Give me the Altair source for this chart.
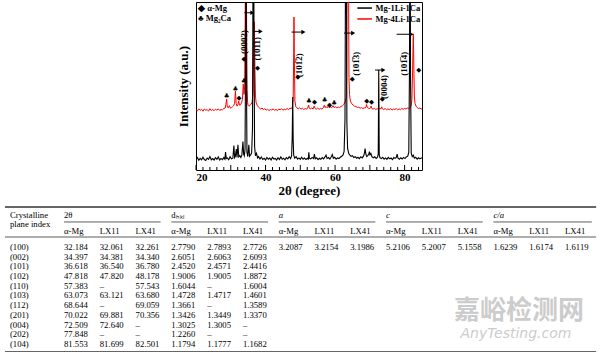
import altair as alt
import pandas as pd

# ---------------- XRD patterns (2θ in degree, intensity in a.u.; 0-100 = plot height) ----------------
BLACK_PTS = [
    (20.0, 6.5), (20.4, 7.4), (20.8, 5.8), (21.2, 6.9), (21.6, 6.0), (22.0, 7.6), (22.4, 6.2), (22.8, 5.7),
    (23.2, 7.1), (23.6, 6.3), (24.0, 8.0), (24.4, 6.1), (24.8, 6.8), (25.2, 5.9), (25.6, 7.3), (26.0, 6.4),
    (26.4, 7.8), (26.8, 6.0), (27.2, 6.9), (27.6, 6.2), (28.0, 7.4), (28.3, 6.5), (28.5, 10.7), (28.7, 6.8),
    (29.0, 7.2), (29.4, 6.1), (29.8, 7.9), (30.2, 6.6), (30.6, 7.0), (30.9, 14.5), (31.1, 7.3), (31.3, 8.0),
    (31.6, 12.5), (31.8, 7.5), (32.06, 15.0), (32.3, 7.8), (32.6, 8.5), (32.9, 7.4), (33.2, 9.0), (33.5, 17.0),
    (33.7, 9.5), (33.9, 8.5), (34.1, 12.0), (34.25, 60.0), (34.38, 160.0), (34.5, 60.0), (34.65, 10.5),
    (34.9, 8.0), (35.2, 15.0), (35.4, 8.2), (35.7, 9.0), (36.0, 10.0), (36.25, 25.0), (36.4, 120.0),
    (36.54, 170.0), (36.7, 70.0), (36.85, 14.0), (37.1, 8.5), (37.4, 10.0), (37.7, 7.2), (38.0, 8.0),
    (38.4, 6.6), (38.8, 7.7), (39.2, 6.3), (39.6, 7.0), (40.0, 6.0), (40.4, 7.5), (40.8, 6.4), (41.2, 7.1),
    (41.6, 6.0), (42.0, 7.6), (42.4, 6.5), (42.8, 6.9), (43.2, 5.9), (43.6, 7.3), (44.0, 6.2), (44.4, 7.8),
    (44.8, 6.4), (45.2, 7.0), (45.6, 6.1), (46.0, 7.4), (46.4, 6.6), (46.8, 7.9), (47.2, 6.8), (47.5, 8.5),
    (47.68, 20.0), (47.82, 43.5), (47.95, 18.0), (48.1, 8.8), (48.4, 7.0), (48.8, 7.9), (49.2, 6.5),
    (49.6, 7.2), (50.0, 6.3), (50.4, 7.6), (50.8, 6.4), (51.2, 7.1), (51.6, 6.2), (52.0, 7.0), (52.3, 6.5),
    (52.45, 10.5), (52.6, 7.0), (53.0, 6.6), (53.4, 7.5), (53.8, 6.8), (54.05, 9.5), (54.3, 6.7), (54.7, 7.3),
    (55.1, 6.2), (55.5, 7.0), (55.9, 6.4), (56.3, 7.4), (56.7, 6.6), (57.1, 7.8), (57.4, 8.9), (57.7, 6.9),
    (58.1, 7.4), (58.5, 6.5), (58.9, 7.9), (59.2, 9.2), (59.5, 7.0), (59.9, 7.6), (60.3, 6.5), (60.7, 7.2),
    (61.1, 6.8), (61.5, 7.6), (61.9, 8.2), (62.3, 9.0), (62.6, 11.0), (62.85, 30.0), (63.0, 120.0),
    (63.1, 170.0), (63.25, 110.0), (63.4, 28.0), (63.6, 13.0), (63.9, 10.0), (64.2, 9.0), (64.6, 8.1),
    (65.0, 8.5), (65.4, 7.4), (65.8, 7.9), (66.2, 7.0), (66.6, 7.6), (67.0, 6.8), (67.4, 7.9), (67.8, 7.2),
    (68.2, 8.4), (68.45, 10.0), (68.64, 12.8), (68.85, 9.5), (69.1, 8.0), (69.4, 8.6), (69.7, 9.5),
    (69.88, 11.0), (70.05, 9.0), (70.3, 9.8), (70.6, 8.0), (71.0, 7.3), (71.4, 7.9), (71.8, 6.9), (72.2, 7.6),
    (72.42, 9.5), (72.56, 59.5), (72.7, 9.0), (72.9, 7.4), (73.3, 6.8), (73.7, 7.6), (74.1, 6.5), (74.5, 7.2),
    (74.9, 6.3), (75.3, 7.5), (75.7, 6.6), (76.1, 7.1), (76.5, 6.2), (76.9, 7.4), (77.3, 6.9), (77.6, 7.5),
    (77.85, 9.5), (78.1, 7.0), (78.5, 6.4), (78.9, 7.3), (79.3, 6.6), (79.7, 7.5), (80.1, 6.8), (80.5, 7.8),
    (80.9, 8.2), (81.2, 10.5), (81.4, 60.0), (81.55, 170.0), (81.7, 55.0), (81.9, 10.0), (82.2, 8.0),
    (82.5, 8.8), (82.8, 7.0), (83.2, 7.6), (83.6, 6.5), (84.0, 7.3), (84.4, 6.6), (84.8, 7.2), (85.0, 6.9),
]

RED_PTS = [
    (20.0, 36.0), (20.4, 35.2), (20.8, 36.4), (21.2, 35.5), (21.6, 36.1), (22.0, 35.0), (22.4, 36.3),
    (22.8, 35.6), (23.2, 35.9), (23.6, 35.1), (24.0, 36.5), (24.4, 35.4), (24.8, 36.0), (25.2, 35.3),
    (25.6, 36.2), (26.0, 35.6), (26.4, 36.4), (26.8, 35.5), (27.2, 36.0), (27.6, 35.8), (28.0, 36.6),
    (28.4, 36.9), (28.6, 39.0), (28.8, 42.3), (29.0, 37.5), (29.3, 37.0), (29.6, 38.3), (29.9, 36.8),
    (30.2, 37.2), (30.5, 37.6), (30.8, 38.2), (31.1, 39.5), (31.35, 47.0), (31.55, 39.5), (31.8, 38.0),
    (32.05, 38.8), (32.28, 41.0), (32.5, 38.6), (32.8, 38.8), (33.1, 40.0), (33.35, 42.0), (33.6, 51.2),
    (33.8, 45.0), (34.0, 50.0), (34.15, 90.0), (34.34, 180.0), (34.55, 90.0), (34.7, 48.0), (34.85, 40.0),
    (35.0, 38.5), (35.2, 38.0), (35.5, 38.5), (35.8, 39.0), (36.1, 40.0), (36.4, 45.0), (36.6, 70.0),
    (36.78, 88.0), (36.95, 60.0), (37.1, 44.0), (37.3, 40.0), (37.6, 38.5), (37.9, 37.6), (38.2, 37.0),
    (38.6, 36.3), (39.0, 36.9), (39.4, 35.9), (39.8, 36.5), (40.2, 35.6), (40.6, 36.2), (41.0, 35.4),
    (41.4, 36.0), (41.8, 35.7), (42.2, 36.4), (42.6, 35.5), (43.0, 36.1), (43.4, 35.3), (43.8, 36.3),
    (44.2, 35.8), (44.6, 36.5), (45.0, 35.6), (45.4, 36.2), (45.8, 35.9), (46.2, 36.6), (46.6, 36.0),
    (47.0, 36.8), (47.4, 36.5), (47.7, 37.5), (47.95, 42.0), (48.1, 70.0), (48.18, 91.0), (48.3, 65.0),
    (48.45, 41.0), (48.7, 37.8), (49.0, 37.0), (49.4, 36.4), (49.8, 37.0), (50.2, 36.2), (50.6, 36.8),
    (51.0, 36.0), (51.4, 36.6), (51.8, 36.2), (52.1, 36.9), (52.4, 38.6), (52.6, 36.8), (52.9, 36.4),
    (53.3, 36.9), (53.7, 36.4), (54.0, 38.0), (54.2, 36.7), (54.6, 36.2), (55.0, 36.9), (55.4, 36.1),
    (55.8, 36.7), (56.2, 36.3), (56.6, 37.0), (56.9, 38.5), (57.1, 37.2), (57.4, 37.8), (57.7, 37.0),
    (58.0, 38.0), (58.3, 37.1), (58.7, 37.6), (59.0, 37.0), (59.4, 38.3), (59.7, 37.2), (60.1, 37.6),
    (60.5, 37.0), (60.9, 37.5), (61.3, 37.2), (61.7, 37.8), (62.1, 38.2), (62.5, 39.0), (62.9, 40.5),
    (63.2, 43.0), (63.35, 55.0), (63.5, 120.0), (63.68, 200.0), (63.85, 120.0), (64.0, 55.0), (64.15, 45.0),
    (64.4, 41.0), (64.8, 39.5), (65.2, 38.6), (65.6, 38.0), (66.0, 37.8), (66.4, 37.2), (66.8, 37.4),
    (67.2, 36.8), (67.6, 37.1), (68.0, 36.6), (68.4, 37.0), (68.7, 36.9), (68.9, 37.6), (69.06, 39.0),
    (69.25, 37.2), (69.6, 36.8), (70.0, 36.5), (70.2, 37.0), (70.36, 38.0), (70.55, 36.7), (70.9, 36.2),
    (71.3, 36.7), (71.7, 36.0), (72.1, 36.5), (72.5, 36.2), (72.9, 36.6), (73.2, 36.4), (73.4, 37.6),
    (73.6, 36.5), (74.0, 36.0), (74.4, 36.6), (74.8, 35.8), (75.2, 36.4), (75.6, 35.9), (76.0, 36.5),
    (76.4, 35.7), (76.8, 36.3), (77.2, 36.0), (77.6, 36.6), (78.0, 35.8), (78.4, 36.4), (78.8, 35.9),
    (79.2, 36.6), (79.6, 36.1), (80.0, 36.7), (80.4, 36.3), (80.8, 36.9), (81.2, 36.6), (81.6, 37.4),
    (81.9, 38.3), (82.1, 42.0), (82.3, 60.0), (82.5, 81.0), (82.65, 62.0), (82.8, 44.0), (83.0, 39.5),
    (83.3, 38.0), (83.6, 37.2), (84.0, 36.6), (84.4, 36.9), (84.8, 36.3), (85.0, 36.7),
]

SERIES_NAMES = ["Mg-1Li-1Ca", "Mg-4Li-1Ca"]
PHASE_NAMES = ["\u25C6 \u03B1-Mg", "\u2663 Mg\u2082Ca"]

DIAMOND_2T = [33.8, 37.7, 32.4, 49.25, 54.1, 58.4, 64.96, 69.1, 70.5, 73.6, 84.1]
DIAMOND_I = [66.0, 61.0, 43.0, 55.5, 40.5, 38.8, 54.0, 41.0, 40.5, 42.0, 59.7]
CLUB_2T = [33.8, 28.8, 31.3, 52.5, 57.0, 59.7]
CLUB_I = [53.0, 44.0, 48.0, 41.0, 41.5, 39.8]

PEAK_NAMES = ["(0002)", "(101\u03051)", "(101\u03052)", "(101\u03053)", "(0004)", "(101\u03054)"]
PEAK_LABEL_2T = [33.8, 37.6, 49.6, 66.0, 74.2, 79.9]
PEAK_LABEL_I = [76.2, 72.2, 62.3, 63.3, 49.4, 63.3]

ARROW_FROM = [33.9, 36.5, 47.5, 62.6, 71.5, 77.7]
ARROW_TO = [36.2, 38.6, 50.9, 65.2, 73.9, 82.0]
ARROW_I = [93.6, 82.5, 82.1, 81.5, 59.5, 80.8]

MAJOR_TICKS = [20, 30, 40, 50, 60, 70, 80]
MINOR_TICKS = [22, 24, 26, 28, 32, 34, 36, 38, 42, 44, 46, 48, 52, 54, 56, 58,
               62, 64, 66, 68, 72, 74, 76, 78, 82, 84]

# ---------------- Table ----------------
PLANES = ["(100)", "(002)", "(101)", "(102)", "(110)", "(103)", "(112)", "(201)", "(004)", "(202)", "(104)"]
GROUPS = ["2\u03B8", "d\u2095\u2096\u2097", "a", "c", "c/a"]
SUBHEADS = ["\u03B1-Mg", "LX11", "LX41"]
TT_AMG = ["32.184", "34.397", "36.618", "47.818", "57.383", "63.073", "68.644", "70.022", "72.509", "77.848", "81.553"]
TT_LX11 = ["32.061", "34.381", "36.540", "47.820", "\u2013", "63.121", "\u2013", "69.881", "72.640", "\u2013", "81.699"]
TT_LX41 = ["32.261", "34.340", "36.780", "48.178", "57.543", "63.680", "69.059", "70.356", "\u2013", "\u2013", "82.501"]
D_AMG = ["2.7790", "2.6051", "2.4520", "1.9006", "1.6044", "1.4728", "1.3661", "1.3426", "1.3025", "1.2260", "1.1794"]
D_LX11 = ["2.7893", "2.6063", "2.4571", "1.9005", "\u2013", "1.4717", "\u2013", "1.3449", "1.3005", "\u2013", "1.1777"]
D_LX41 = ["2.7726", "2.6093", "2.4416", "1.8872", "1.6004", "1.4601", "1.3589", "1.3370", "\u2013", "\u2013", "1.1682"]
A_ROW = ["3.2087", "3.2154", "3.1986"]
C_ROW = ["5.2106", "5.2007", "5.1558"]
CA_ROW = ["1.6239", "1.6174", "1.6119"]
WATERMARK = ["\u5609\u5cea\u68c0\u6d4b\u7f51", "AnyTesting.com"]

# ---------------- styles / layout ----------------
SERIF = "Liberation Serif"
BLACK = "#000000"
RED = "#ff0000"
SPACER_W = 176
PLOT_W, PLOT_H = 226, 168

xs = alt.Scale(domain=[20, 85], nice=False, zero=False)
ys = alt.Scale(domain=[0, 100], nice=False, zero=False)

black_df = pd.DataFrame(BLACK_PTS, columns=["tt", "inten"])
red_df = pd.DataFrame(RED_PTS, columns=["tt", "inten"])

x_axis = alt.Axis(title="2\u03B8 (degree)", values=MAJOR_TICKS, ticks=False, domain=False, grid=False,
                  labelFont=SERIF, labelFontWeight="bold", labelFontSize=11, labelColor=BLACK,
                  labelPadding=1, titleFont=SERIF, titleFontWeight="bold", titleFontSize=13,
                  titleColor=BLACK, titlePadding=2)
y_axis = alt.Axis(title="Intensity (a.u.)", labels=False, ticks=False, domain=False, grid=False,
                  titleFont=SERIF, titleFontWeight="bold", titleFontSize=13, titleColor=BLACK,
                  titlePadding=6)

red_line = alt.Chart(red_df).mark_line(color=RED, strokeWidth=1, clip=True).encode(
    x=alt.X("tt:Q", scale=xs, axis=x_axis),
    y=alt.Y("inten:Q", scale=ys, axis=y_axis),
)
black_line = alt.Chart(black_df).mark_line(color=BLACK, strokeWidth=1.1, clip=True).encode(
    x=alt.X("tt:Q", scale=xs), y=alt.Y("inten:Q", scale=ys))

tick_df = pd.DataFrame({"t": MAJOR_TICKS + MINOR_TICKS,
                        "len": [3.0] * len(MAJOR_TICKS) + [1.8] * len(MINOR_TICKS),
                        "z": [0.0] * (len(MAJOR_TICKS) + len(MINOR_TICKS))})
ticks = alt.Chart(tick_df).mark_rule(color=BLACK, strokeWidth=1).encode(
    x=alt.X("t:Q", scale=xs), y=alt.Y("z:Q", scale=ys), y2="len:Q")

dia_df = pd.DataFrame({"tt": DIAMOND_2T, "inten": DIAMOND_I, "s": ["\u25C6"] * len(DIAMOND_2T)})
club_df = pd.DataFrame({"tt": CLUB_2T, "inten": CLUB_I, "s": ["\u2663"] * len(CLUB_2T)})
markers = alt.Chart(pd.concat([dia_df, club_df])).mark_text(
    font="DejaVu Sans", fontSize=6.5, color=BLACK).encode(
    x=alt.X("tt:Q", scale=xs), y=alt.Y("inten:Q", scale=ys), text="s:N")

peak_df = pd.DataFrame({"tt": PEAK_LABEL_2T, "inten": PEAK_LABEL_I, "lab": PEAK_NAMES})
peak_labels = alt.Chart(peak_df).mark_text(
    font=SERIF, fontWeight="bold", fontSize=9, angle=270, color=BLACK).encode(
    x=alt.X("tt:Q", scale=xs), y=alt.Y("inten:Q", scale=ys), text="lab:N")

arrow_df = pd.DataFrame({"a": ARROW_FROM, "b": ARROW_TO, "inten": ARROW_I})
arrow_lines = alt.Chart(arrow_df).mark_rule(color=BLACK, strokeWidth=1).encode(
    x=alt.X("a:Q", scale=xs), x2="b:Q", y=alt.Y("inten:Q", scale=ys))
arrow_heads = alt.Chart(arrow_df).mark_point(shape="triangle-right", filled=True, size=22,
                                             color=BLACK, opacity=1).encode(
    x=alt.X("b:Q", scale=xs), y=alt.Y("inten:Q", scale=ys))

# series legend (top right) and phase legend (top left), placed in data units
leg_df = pd.DataFrame({"name": SERIES_NAMES, "x0": [66.4, 66.4], "x1": [70.6, 70.6],
                       "xt": [71.6, 71.6], "inten": [96.4, 89.9]})
leg_lines = alt.Chart(leg_df).mark_rule(strokeWidth=1.5).encode(
    x=alt.X("x0:Q", scale=xs), x2="x1:Q", y=alt.Y("inten:Q", scale=ys),
    color=alt.Color("name:N", scale=alt.Scale(domain=SERIES_NAMES, range=[BLACK, RED]), legend=None))
leg_text = alt.Chart(leg_df).mark_text(font=SERIF, fontWeight="bold", fontSize=8.5, align="left",
                                       color=BLACK).encode(
    x=alt.X("xt:Q", scale=xs), y=alt.Y("inten:Q", scale=ys), text="name:N")
phase_df = pd.DataFrame({"name": PHASE_NAMES, "x": [20.6, 20.6], "inten": [96.4, 90.6]})
phase_text = alt.Chart(phase_df).mark_text(font=SERIF, fontWeight="bold", fontSize=8.5, align="left",
                                           color=BLACK).encode(
    x=alt.X("x:Q", scale=xs), y=alt.Y("inten:Q", scale=ys), text="name:N")

xrd = alt.layer(red_line, black_line, ticks, arrow_lines, arrow_heads, markers, peak_labels,
                leg_lines, leg_text, phase_text).properties(
    width=PLOT_W, height=PLOT_H, view=alt.ViewBackground(stroke=BLACK, strokeWidth=1))

spacer = alt.Chart(pd.DataFrame({"v": [0]})).mark_point(opacity=0).properties(width=SPACER_W, height=10)

# ---------------- table chart ----------------
TABLE_W, TABLE_H = 600, 156
# column units: value columns at 0..14, row units: data rows at 0..10
tx = alt.Scale(domain=[-1.788, 14.978], nice=False, zero=False)
ty = alt.Scale(domain=[-4.948, 11.134], nice=False, zero=False, reverse=True)

value_cols = [TT_AMG, TT_LX11, TT_LX41, D_AMG, D_LX11, D_LX41, A_ROW[0:1], A_ROW[1:2], A_ROW[2:3],
              C_ROW[0:1], C_ROW[1:2], C_ROW[2:3], CA_ROW[0:1], CA_ROW[1:2], CA_ROW[2:3]]
cells = []
for ci, col in enumerate(value_cols):
    for ri, v in enumerate(col):
        cells.append({"c": ci, "r": ri, "t": v})
for ri, p in enumerate(PLANES):
    cells.append({"c": -1.51, "r": ri, "t": p})
cells += [{"c": ci, "r": -1.65, "t": SUBHEADS[ci % 3]} for ci in range(15)]
cells += [{"c": -1.51, "r": -3.28, "t": "Crystalline"}, {"c": -1.51, "r": -2.35, "t": "plane index"}]
cells += [{"c": 0, "r": -3.28, "t": GROUPS[0]}, {"c": 3, "r": -3.28, "t": GROUPS[1]}]
cell_df = pd.DataFrame(cells)

TEXT_STYLE = dict(font=SERIF, fontSize=8.7, align="left", baseline="middle", color="#000000")
table_text = alt.Chart(cell_df).mark_text(**TEXT_STYLE).encode(
    x=alt.X("c:Q", scale=tx, axis=None), y=alt.Y("r:Q", scale=ty, axis=None), text="t:N")
ital_df = pd.DataFrame({"c": [6, 9, 12], "r": [-3.28] * 3, "t": GROUPS[2:]})
table_ital = alt.Chart(ital_df).mark_text(fontStyle="italic", **TEXT_STYLE).encode(
    x=alt.X("c:Q", scale=tx, axis=None), y=alt.Y("r:Q", scale=ty, axis=None), text="t:N")

under_df = pd.DataFrame({"a": [0, 3, 6, 9, 12], "b": [2.7, 5.7, 8.7, 11.7, 14.75], "r": [-2.58] * 5})
underlines = alt.Chart(under_df).mark_rule(color="#333333", strokeWidth=0.8).encode(
    x=alt.X("a:Q", scale=tx, axis=None), x2="b:Q", y=alt.Y("r:Q", scale=ty, axis=None))
hrule_df = pd.DataFrame({"a": [-1.65] * 3, "b": [14.87] * 3, "r": [-4.12, -1.03, 10.82],
                         "w": [1.6, 0.8, 1.6]})
hrules = alt.Chart(hrule_df).mark_rule(color="#333333").encode(
    x=alt.X("a:Q", scale=tx, axis=None), x2="b:Q", y=alt.Y("r:Q", scale=ty, axis=None),
    strokeWidth=alt.StrokeWidth("w:Q", scale=None, legend=None))

wm_cn = alt.Chart(pd.DataFrame({"t": WATERMARK[:1]})).mark_text(
    font="Noto Sans CJK SC", fontSize=26, fontWeight="bold", color="#cccccc", align="center",
    baseline="middle").encode(x=alt.value(519), y=alt.value(112), text="t:N")
wm_en = alt.Chart(pd.DataFrame({"t": WATERMARK[1:]})).mark_text(
    font="DejaVu Sans", fontSize=14, fontStyle="italic", color="#cccccc", align="center",
    baseline="middle").encode(x=alt.value(516), y=alt.value(135), text="t:N")

table = alt.layer(wm_cn, wm_en, hrules, underlines, table_text, table_ital).properties(
    width=TABLE_W, height=TABLE_H)

top_row = alt.hconcat(spacer, xrd, spacing=0)
chart = alt.vconcat(top_row, table, spacing=1).properties(
    padding={"left": 0, "right": 0, "top": 1, "bottom": 0}
).configure_view(stroke=None).configure_concat(spacing=0)

chart.save("out.html", embed_options={"renderer": "svg", "actions": False})
